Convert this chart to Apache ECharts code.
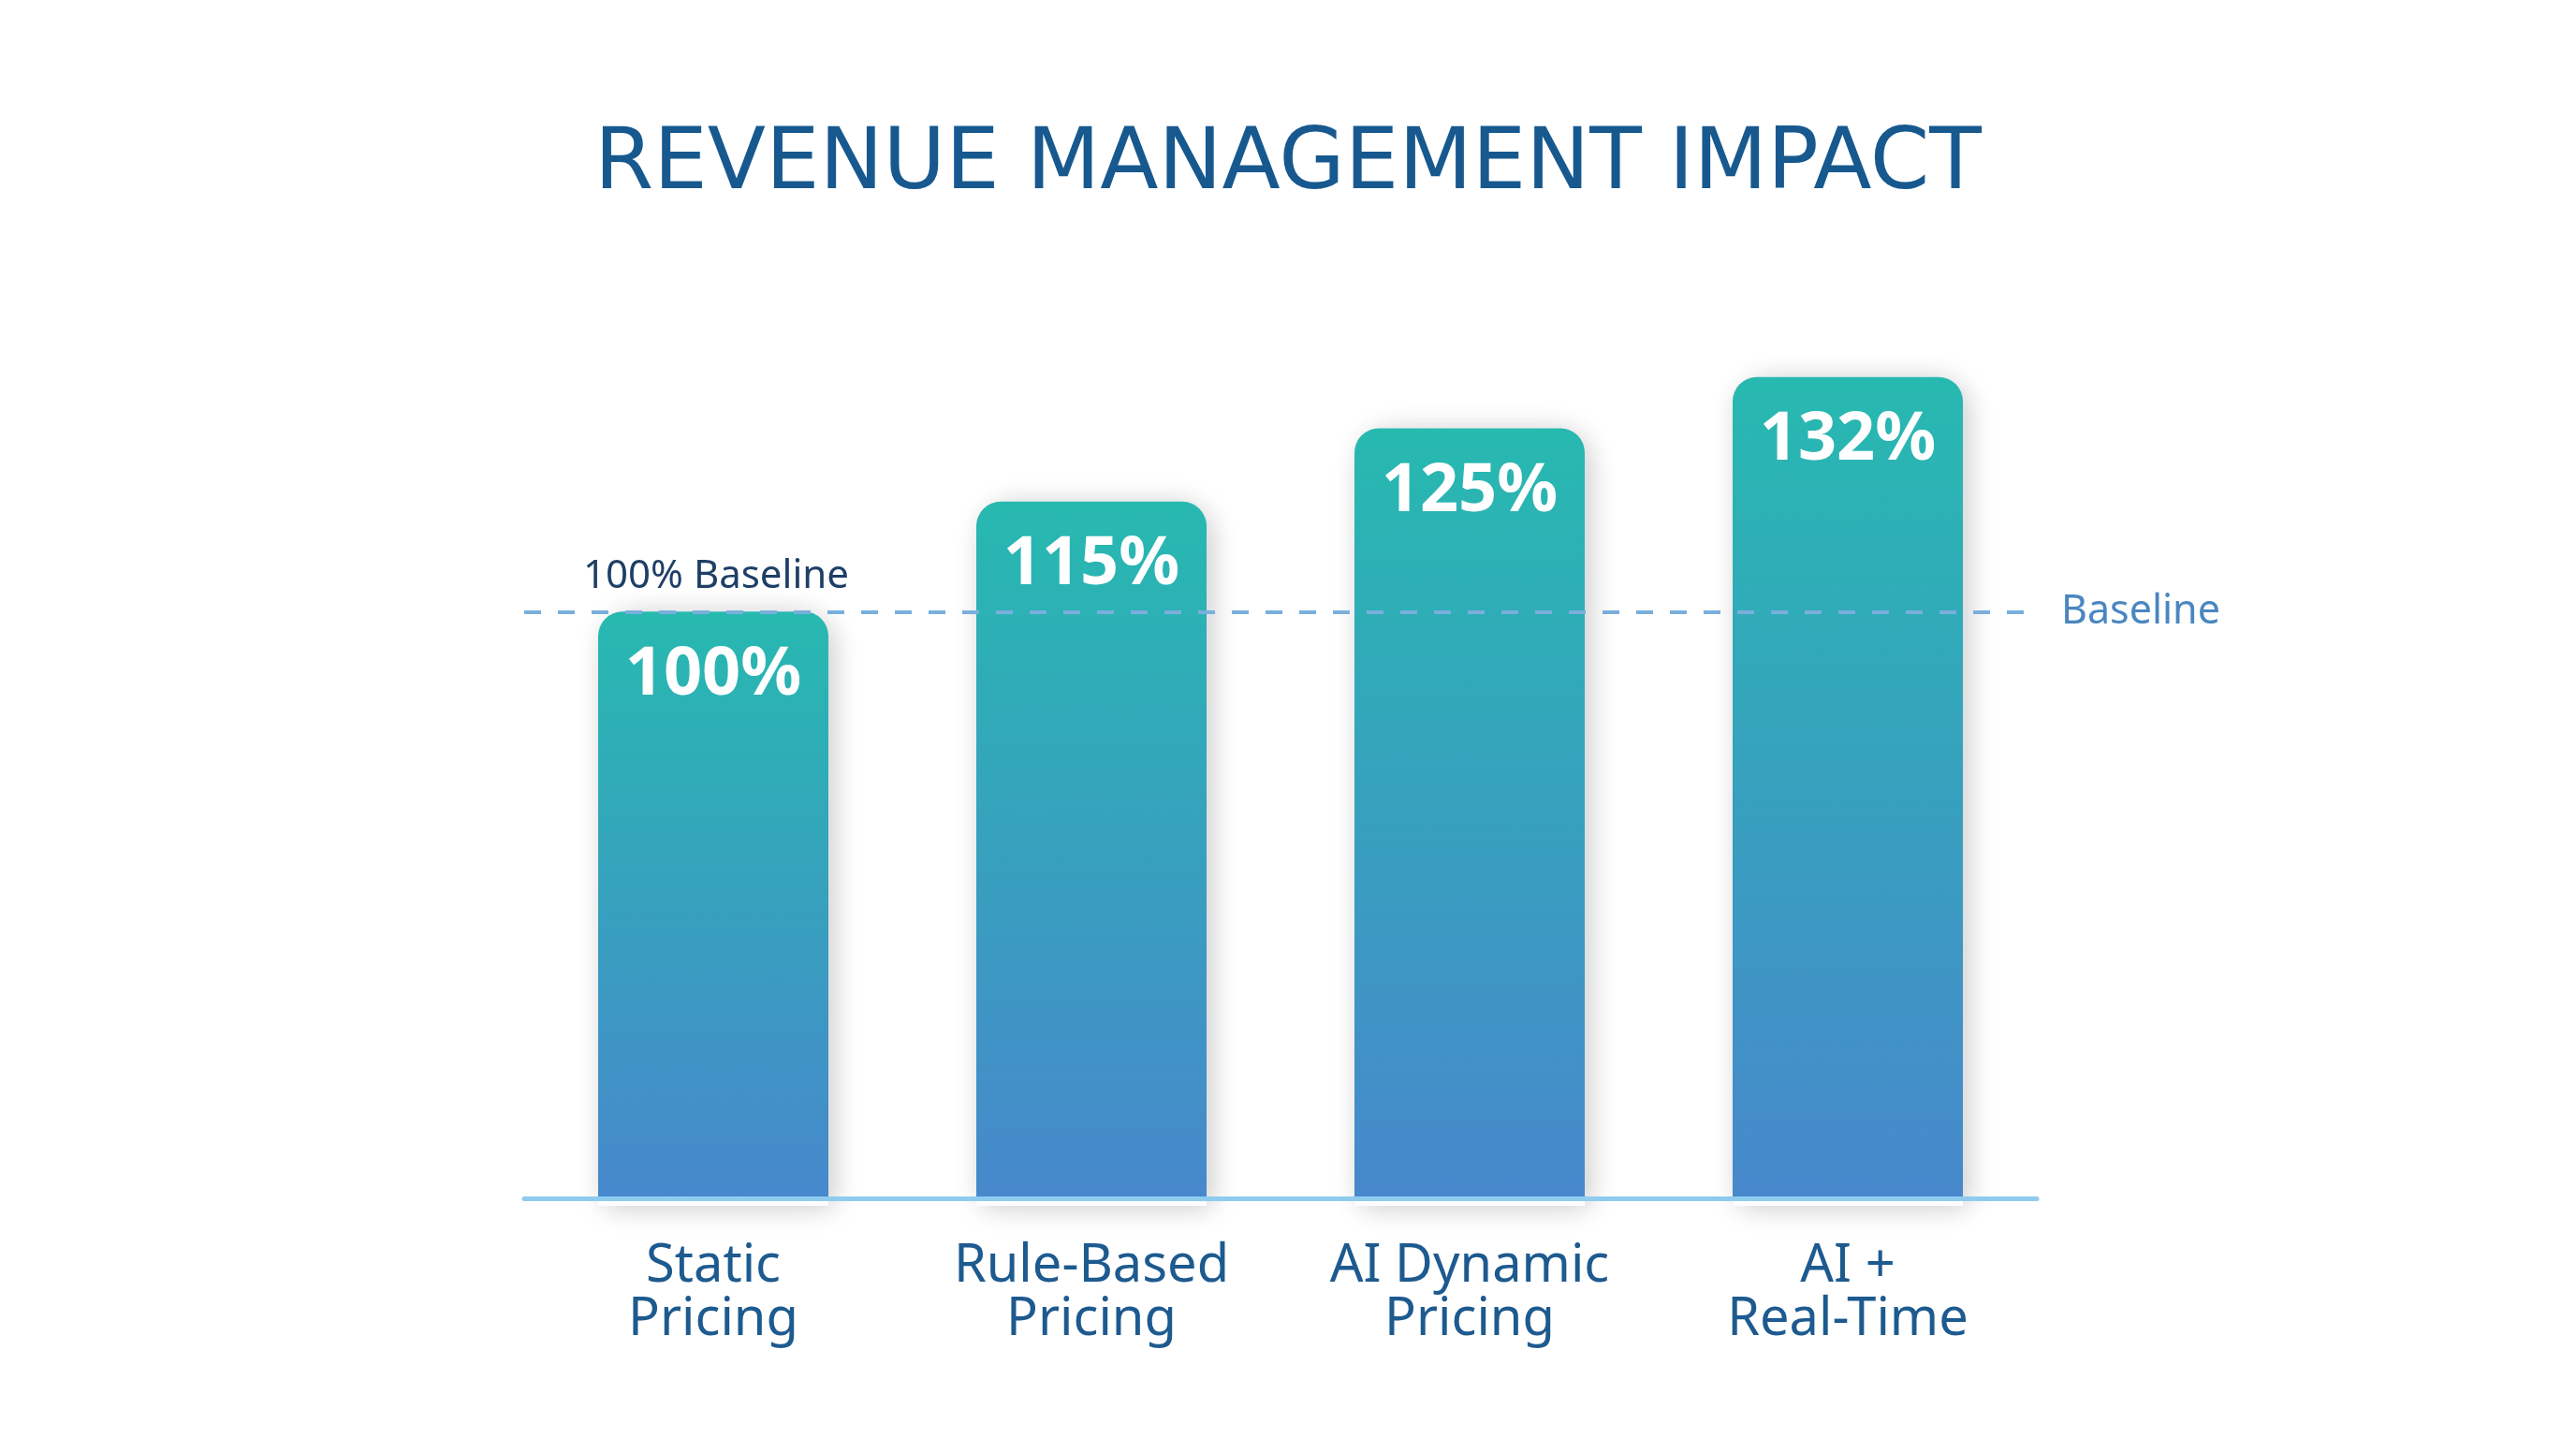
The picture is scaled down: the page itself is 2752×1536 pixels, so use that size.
<!DOCTYPE html>
<html>
<head>
<meta charset="utf-8">
<title>Revenue Management Impact</title>
<script src="https://cdn.jsdelivr.net/npm/echarts@6/dist/echarts.min.js"></script>
<style>
  html, body { margin: 0; padding: 0; background: #fff; }
  #main { width: 2752px; height: 1536px; }
</style>
</head>
<body>
<div id="main"></div>
<script>
// 数据
var categories = ['Static\nPricing', 'Rule-Based\nPricing', 'AI Dynamic\nPricing', 'AI +\nReal-Time'];
var revenueIndex = [100, 115, 125, 132];
var baselineValue = 100;

var fontFamily = "'Noto Sans', 'Open Sans', sans-serif";
var titleFont = "'DejaVu Sans', 'Noto Sans', sans-serif";

var chart = echarts.init(document.getElementById('main'));

var option = {
    backgroundColor: '#ffffff',
    animation: false,
    title: {
        text: 'REVENUE MANAGEMENT IMPACT',
        left: 'center',
        top: 127,
        textStyle: {
            color: '#17598f',
            fontFamily: titleFont,
            fontSize: 91,
            fontWeight: 'normal'
        }
    },
    grid: {
        left: 560,
        right: 576,
        top: 340,
        bottom: 256,
        containLabel: false
    },
    xAxis: {
        type: 'category',
        data: categories,
        z: 10,
        axisTick: { show: false },
        axisLine: {
            show: true,
            lineStyle: { color: '#8fcbef', width: 5 }
        },
        axisLabel: {
            margin: 45,
            color: '#1d5a8f',
            fontFamily: fontFamily,
            fontSize: 56,
            lineHeight: 57
        }
    },
    yAxis: {
        type: 'value',
        min: 20,
        max: 140,
        show: false,
        splitLine: { show: false }
    },
    series: [
        {
            // 白色描边 + 阴影的底衬
            type: 'bar',
            data: revenueIndex,
            barWidth: 246,
            barGap: '-100%',
            silent: true,
            itemStyle: {
                color: '#ffffff',
                borderColor: '#ffffff',
                borderWidth: 16,
                borderRadius: [28, 28, 0, 0],
                shadowBlur: 30,
                shadowOffsetX: 6,
                shadowOffsetY: 2,
                shadowColor: 'rgba(0,0,0,0.16)'
            }
        },
        {
            type: 'bar',
            data: revenueIndex,
            barWidth: 246,
            barGap: '-100%',
            itemStyle: {
                borderRadius: [26, 26, 0, 0],
                color: new echarts.graphic.LinearGradient(0, 0, 0, 1, [
                    { offset: 0, color: '#27b9b0' },
                    { offset: 1, color: '#4788cc' }
                ])
            },
            label: {
                show: true,
                position: 'insideTop',
                distance: 32,
                color: '#ffffff',
                fontFamily: fontFamily,
                fontSize: 72,
                fontWeight: 'bold',
                formatter: '{c}%'
            },
            markLine: {
                silent: true,
                symbol: 'none',
                lineStyle: {
                    color: '#79afdc',
                    width: 4,
                    type: [18, 18]
                },
                data: [
                    {
                        yAxis: baselineValue,
                        label: {
                            show: true,
                            position: 'end',
                            distance: 26,
                            formatter: 'Baseline',
                            color: '#4a86c0',
                            fontFamily: fontFamily,
                            fontSize: 43
                        }
                    },
                    {
                        yAxis: baselineValue,
                        lineStyle: { color: 'rgba(255,255,255,0)', width: 1, type: 'solid' },
                        label: {
                            show: true,
                            position: 'insideStartTop',
                            distance: [63, 16],
                            formatter: '100% Baseline',
                            color: '#1e3f66',
                            fontFamily: fontFamily,
                            fontSize: 42
                        }
                    }
                ]
            }
        }
    ]
};

chart.setOption(option);
</script>
</body>
</html>
